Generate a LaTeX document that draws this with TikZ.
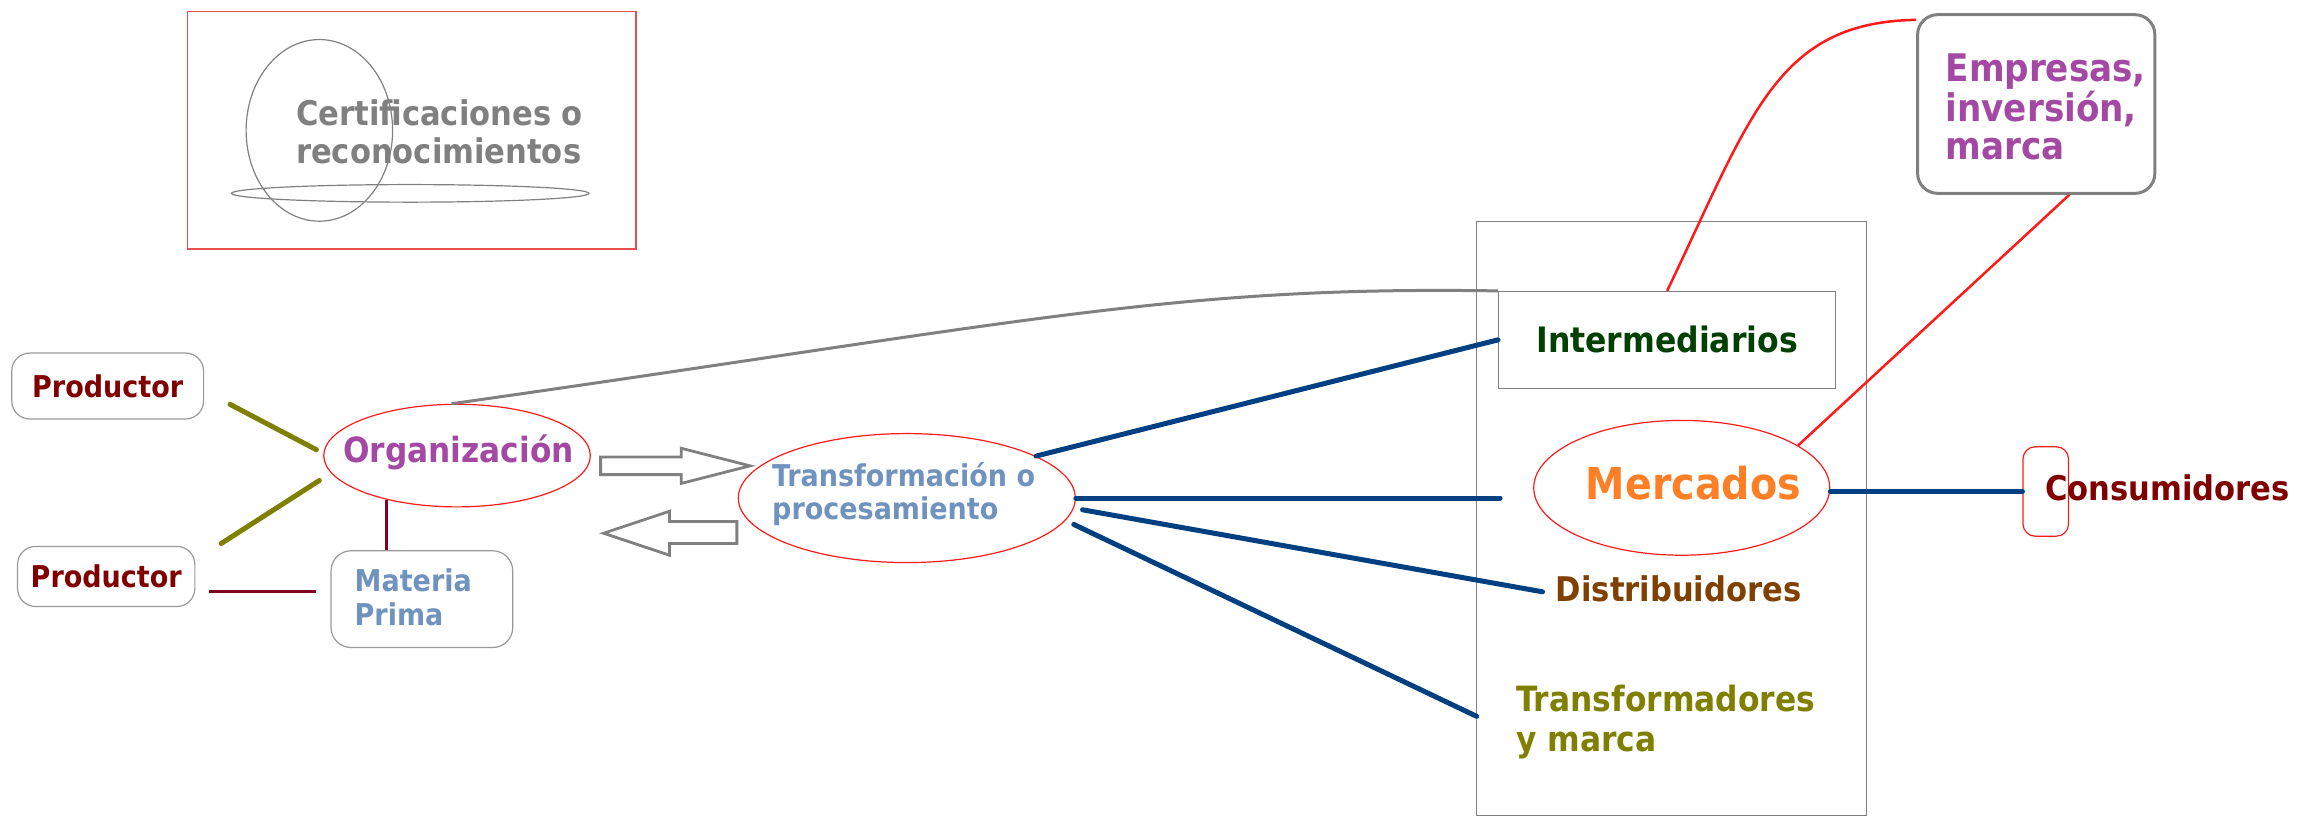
\documentclass[tikz,border=0pt]{standalone}
\usepackage{fontspec}
\setmainfont{DejaVu Sans Condensed Bold}
\usetikzlibrary{shapes.geometric}
\newcommand{\fsz}[2]{\fontsize{#1}{#2}\selectfont}
\definecolor{maroonc}{HTML}{800000}
\definecolor{purplec}{HTML}{A349A4}
\definecolor{steelc}{HTML}{7092BE}
\definecolor{greenc}{HTML}{004000}
\definecolor{orangec}{HTML}{FF7F27}
\definecolor{brownc}{HTML}{804000}
\definecolor{olivec}{HTML}{808000}
\definecolor{grayc}{HTML}{808080}
\definecolor{bluec}{HTML}{004080}
\definecolor{redc}{HTML}{FF1A1A}
\definecolor{darkredc}{HTML}{7F0020}
\definecolor{boxredc}{HTML}{E85050}
\begin{document}
\begin{tikzpicture}[x=1.465pt,y=-1.465pt,
  txt/.style={inner sep=0pt, align=left},
  pbox/.style={draw=grayc!80, line width=1.2pt, rounded corners=18pt, inner sep=0pt},
  redell/.style={ellipse, draw=redc, line width=1.2pt, inner sep=0pt},
  bluel/.style={draw=bluec, line width=5pt, line cap=round},
  olivel/.style={draw=olivec, line width=5pt, line cap=round},
  drl/.style={draw=darkredc, line width=3pt},
  redl/.style={draw=redc, line width=2.5pt},
  arrowshape/.style={draw=grayc, line width=2.8pt, line join=miter}
]
\useasboundingbox (0,0) rectangle (1568,557);

% certifications
\draw[boxredc, line width=1.5pt] (128,8) rectangle (434,170);
\draw[grayc, line width=1.2pt] (218,89) ellipse [x radius=50, y radius=62];
\draw[grayc, line width=1.2pt] (280,132) ellipse [x radius=122, y radius=6];
\node[txt, anchor=west, text=grayc, font=\fsz{34}{38}] (cert) at (202,90) {Certificaciones o\\reconocimientos};

% left nodes
\node[pbox, minimum width=191.9pt, minimum height=65.9pt, text=maroonc, font=\fsz{30}{34}] (p1) at (73.5,263.5) {Productor};
\node[pbox, minimum width=177.3pt, minimum height=60.1pt, text=maroonc, font=\fsz{30}{34}] (p2) at (72.5,393.5) {Productor};
\node[redell, minimum width=266.6pt, minimum height=102.6pt] (org) at (312,311) {};
\node[txt, text=purplec, font=\fsz{34.7}{40}] (orgt) at (313,309) {Organización};
\node[pbox, rounded corners=20pt, minimum width=181.7pt, minimum height=96.7pt] (mat) at (288,409) {};
\node[txt, anchor=west, text=steelc, font=\fsz{30}{34}] (matt) at (242,408) {Materia\\Prima};

\coordinate (o1a) at (157,276); \coordinate (o1b) at (216,307);
\coordinate (o2a) at (151,371); \coordinate (o2b) at (218,328);
\draw[olivel] (o1a) -- (o1b);
\draw[olivel] (o2a) -- (o2b);
\draw[drl] (org.212.5) -- (org.212.5 |- mat.north);
\coordinate (d1) at (143,404); \coordinate (d2) at (216,404);
\draw[drl] (d1) -- (d2);

% transformation
\node[redell, minimum width=337pt, minimum height=129pt] (trans) at (619,340) {};
\node[txt, anchor=west, text=steelc, font=\fsz{30}{33}] (transt) at (527,337) {Transformación o\\procesamiento};

% arrows
\coordinate (ra) at (410,318);
\draw[arrowshape] (ra) ++(0,-6) -- ++(55,0) -- ++(0,-6) -- ++(47,12) -- ++(-47,12) -- ++(0,-6) -- ++(-55,0) -- cycle;
\coordinate (la) at (412,364);
\draw[arrowshape] (la) -- ++(45,-15) -- ++(0,7) -- ++(46,0) -- ++(0,15) -- ++(-46,0) -- ++(0,8) -- cycle;

% market block
\draw[grayc, line width=1.2pt] (1008,151) rectangle (1274,557);
\node[draw=grayc, line width=1.2pt, minimum width=337pt, minimum height=96.7pt, text=greenc, font=\fsz{35}{40}] (inter) at (1138,232) {Intermediarios};
\node[redell, minimum width=296pt, minimum height=134.8pt] (merc) at (1148,333) {};
\node[txt, text=orangec, font=\fsz{44}{50}] (merct) at (1156,330) {Mercados};
\node[txt, anchor=west, text=brownc, font=\fsz{34}{40}] (dist) at (1062,402) {Distribuidores};
\node[txt, anchor=west, text=olivec, font=\fsz{34.8}{40}] (tmar) at (1035,493) {Transformadores\\y marca};

\node[draw=grayc, line width=3pt, rounded corners=20pt, minimum width=237.3pt, minimum height=178.7pt] (emp) at (1390,71) {};
\node[txt, anchor=west, text=purplec, font=\fsz{38}{38}] (empt) at (1328,73) {Empresas,\\inversión,\\marca};

\node[draw=redc, line width=1.2pt, rounded corners=12pt, minimum width=45.4pt, minimum height=89.4pt] (consb) at (1396.5,335.5) {};
\node[txt, anchor=west, text=maroonc, font=\fsz{34}{40}] (cons) at (1396,333) {Consumidores};

% blue connectors
\coordinate (b2) at (1024,340);
\coordinate (b3s) at (739,348); \coordinate (b3) at (1053,404);
\coordinate (b4s) at (733,358); \coordinate (b4) at (1008,489);
\draw[bluel] (trans.18) -- (inter.west);
\draw[bluel] (trans.east) -- (b2);
\draw[bluel] (b3s) -- (b3);
\draw[bluel] (b4s) -- (b4);
\draw[bluel] (consb.west -| merc.east) -- (consb.west);

% gray curve
\draw[grayc, line width=3pt] (org.96) .. controls (700,220) and (800,195) .. (inter.north west);

% red connectors
\draw[redl] (inter.north) .. controls (1195,80) and (1212,15) .. (emp.145);
\draw[redl] (merc.20) -- (emp.-70);
\end{tikzpicture}
\end{document}
